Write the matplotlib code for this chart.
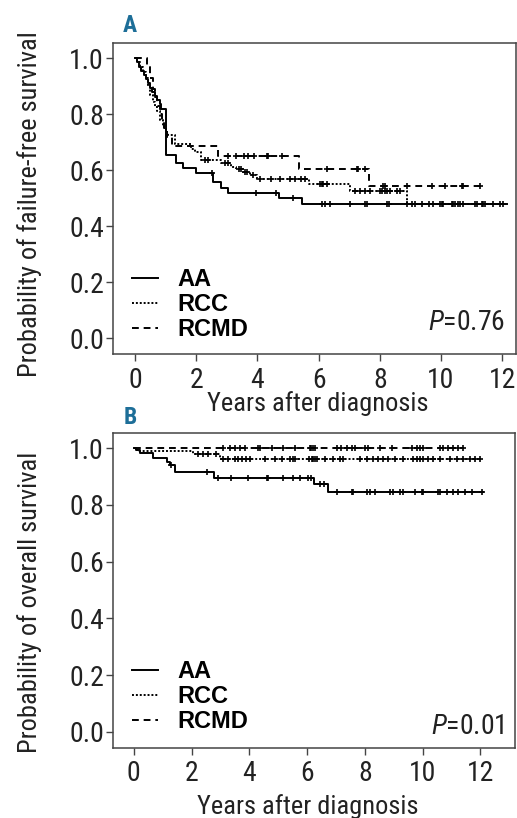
import numpy as np
import matplotlib
matplotlib.use("Agg")
import matplotlib.pyplot as plt
from matplotlib import font_manager

# pick a narrow grotesque if there is one, the figure uses a condensed face
available = {f.name for f in font_manager.fontManager.ttflist}
cond_font = next((f for f in ['Roboto Condensed', 'Archivo Narrow', 'Asap Condensed']
                  if f in available), 'DejaVu Sans')
plt.rcParams['font.family'] = [cond_font, 'DejaVu Sans']
plt.rcParams['mathtext.fontset'] = 'custom'
plt.rcParams['mathtext.rm'] = cond_font
plt.rcParams['mathtext.it'] = cond_font + ':italic'

groups = ["AA", "RCC", "RCMD"]

# panel A - failure-free survival (event times, survival after each step)
ffs_aa_t = [0.05, 0.12, 0.2, 0.28, 0.35, 0.42, 0.5, 0.57, 0.65, 0.72, 0.8, 0.86,
            1.0, 1.35, 1.57, 2.0, 2.55, 2.82, 3.04, 4.69, 5.44]
ffs_aa_s = [0.985, 0.97, 0.955, 0.94, 0.925, 0.91, 0.895, 0.88, 0.865, 0.85, 0.835, 0.82,
            0.655, 0.624, 0.606, 0.59, 0.558, 0.535, 0.519, 0.499, 0.478]
ffs_aa_end = 12.15
ffs_aa_cens = [2.5, 3.94, 4.62, 5.16, 6.1, 6.21, 6.37, 7.03, 7.52, 7.57, 8.25, 8.3, 8.88,
               9.15, 9.59, 9.97, 10.08, 10.35, 10.46, 10.57, 10.73, 11.17, 11.33, 11.44,
               12.04]

ffs_rcc_t = [0.05, 0.15, 0.25, 0.35, 0.42, 0.5, 0.58, 0.65, 0.72, 0.8, 0.9, 1.0, 1.08,
             1.3, 1.84, 1.95, 2.17, 2.82, 3.15, 3.31, 3.53, 3.75, 3.97, 5.7, 7.03, 8.88]
ffs_rcc_s = [0.985, 0.97, 0.95, 0.93, 0.9, 0.87, 0.845, 0.825, 0.81, 0.78, 0.755, 0.735,
             0.725, 0.695, 0.677, 0.665, 0.636, 0.627, 0.612, 0.604, 0.594, 0.582, 0.57,
             0.549, 0.527, 0.48]
ffs_rcc_end = 12.0
ffs_rcc_cens = [2.3, 2.4, 2.95, 3.05, 3.4, 3.45, 3.6, 3.65, 3.85, 4.07, 4.45, 4.73, 5.05,
                5.22, 5.43, 5.55, 6.05, 6.1, 6.15, 6.26, 7.19, 7.35, 7.52, 7.68, 8.0, 8.06,
                8.17, 8.25, 8.33, 8.55, 8.66, 9.04, 9.37, 9.75, 10.02, 10.4, 10.62, 11.11,
                11.38, 11.71, 11.93]

ffs_rcmd_t = [0.4, 0.5, 0.58, 0.65, 0.72, 0.8, 0.88, 0.95, 1.05, 1.2, 2.72, 5.36, 7.63]
ffs_rcmd_s = [0.97, 0.93, 0.89, 0.86, 0.83, 0.8, 0.77, 0.75, 0.72, 0.685, 0.649, 0.604, 0.544]
ffs_rcmd_end = 11.27
ffs_rcmd_cens = [3.05, 3.3, 3.55, 3.7, 3.9, 4.3, 4.36, 4.8, 6.26, 7.24, 7.3, 7.52, 8.11,
                 8.17, 8.88, 9.7, 10.13, 10.68, 10.73, 11.27]

# panel B - overall survival
os_aa_t = [0.08, 0.2, 0.66, 1.15, 1.25, 1.41, 2.78, 6.25, 6.73]
os_aa_s = [0.993, 0.985, 0.965, 0.952, 0.94, 0.916, 0.896, 0.874, 0.847]
os_aa_end = 12.1
os_aa_cens = [1.3, 2.54, 2.91, 3.38, 3.96, 4.6, 4.66, 5.17, 5.52, 5.75, 6.04, 6.15, 6.45,
              6.6, 7.02, 7.54, 7.6, 8.06, 8.18, 8.35, 8.87, 8.98, 9.21, 9.33, 9.73, 9.97,
              10.02, 10.54, 10.6, 10.83, 11.06, 11.24, 11.47, 11.7, 12.04]

os_rcc_t = [0.1, 2.05, 2.97]
os_rcc_s = [0.99, 0.979, 0.963]
os_rcc_end = 12.0
os_rcc_cens = [2.22, 2.39, 2.57, 2.85, 3.09, 3.27, 3.5, 3.62, 3.73, 3.9, 4.02, 4.54, 4.88,
               5.12, 5.4, 5.52, 5.58, 6.05, 6.16, 6.22, 6.28, 6.33, 6.62, 6.91, 7.14, 7.26,
               7.83, 8.06, 8.29, 8.46, 8.64, 8.81, 9.04, 9.33, 9.68, 9.79, 9.91, 10.02,
               10.2, 10.37, 10.6, 10.95, 11.18, 11.41, 11.64, 11.81, 11.99]

os_rcmd_t = []
os_rcmd_s = []
os_rcmd_end = 11.45
os_rcmd_cens = [3.09, 3.33, 3.5, 3.67, 3.85, 4.3, 4.36, 4.77, 5.17, 5.58, 6.1, 6.15, 6.2,
                6.27, 7.02, 7.19, 7.37, 7.54, 7.66, 8.0, 8.12, 8.52, 8.93, 9.62, 9.79, 9.91,
                10.02, 10.6, 10.72, 10.89, 11.06, 11.24, 11.41]

line_styles = ['-', (0, (1, 1)), (0, (3.5, 2.5))]
label_color = '#1d6e98'


def km_curve(ax, t, s, end, cens, ls, label):
    x = np.r_[0.0, t, end]
    y = np.r_[1.0, s, s[-1] if len(s) else 1.0]
    ax.step(x, y, where='post', color='black', lw=1.4, ls=ls, label=label)
    idx = np.searchsorted(x, cens, side='right') - 1
    ax.plot(cens, y[idx], ls='none', marker='+', ms=5, mew=1.2, color='black')


def style_axes(ax, xmax):
    ax.set_xlim(-0.72, xmax)
    ax.set_ylim(-0.057, 1.054)
    ax.set_xticks(range(0, 13, 2))
    ax.set_yticks([0.0, 0.2, 0.4, 0.6, 0.8, 1.0])
    ax.set_yticklabels(['0.0', '0.2', '0.4', '0.6', '0.8', '1.0'])
    ax.tick_params(labelsize=20, length=5, width=1, color='#444444', labelcolor='#222222')
    ax.tick_params(axis='y', pad=1.5)
    ax.tick_params(axis='x', pad=4)
    for sp in ax.spines.values():
        sp.set_color('#444444')
        sp.set_linewidth(1.1)


fig = plt.figure(figsize=(5.17, 8.18), dpi=100)
axA = fig.add_axes([0.2186, 0.5672, 0.7795, 0.3802])
axB = fig.add_axes([0.2186, 0.0856, 0.7776, 0.3851])

ffs = [(ffs_aa_t, ffs_aa_s, ffs_aa_end, ffs_aa_cens),
       (ffs_rcc_t, ffs_rcc_s, ffs_rcc_end, ffs_rcc_cens),
       (ffs_rcmd_t, ffs_rcmd_s, ffs_rcmd_end, ffs_rcmd_cens)]
osv = [(os_aa_t, os_aa_s, os_aa_end, os_aa_cens),
       (os_rcc_t, os_rcc_s, os_rcc_end, os_rcc_cens),
       (os_rcmd_t, os_rcmd_s, os_rcmd_end, os_rcmd_cens)]

for ax, data in [(axA, ffs), (axB, osv)]:
    for (t, s, end, cens), ls, g in zip(data, line_styles, groups):
        km_curve(ax, t, s, end, cens, ls, g)

style_axes(axA, 12.45)
style_axes(axB, 13.2)

axA.set_ylabel('Probability of failure-free survival', fontsize=19, color='#222222')
axA.yaxis.set_label_coords(-0.176, 0.482)
axA.set_xlabel('Years after diagnosis', fontsize=19, color='#222222')
axA.xaxis.set_label_coords(0.509, -0.12)
axB.set_ylabel('Probability of overall survival', fontsize=19, color='#222222')
axB.yaxis.set_label_coords(-0.177, 0.463)
axB.set_xlabel('Years after diagnosis', fontsize=19, color='#222222')
axB.xaxis.set_label_coords(0.485, -0.145)

for ax, ptxt, py, ly in [(axA, r'$P$=0.76', 0.077, -0.012), (axB, r'$P$=0.01', 0.044, -0.005)]:
    ax.text(0.973, py, ptxt, transform=ax.transAxes, ha='right', va='baseline',
            fontsize=20, color='#222222')
    ax.legend(loc='lower left', bbox_to_anchor=(0.005, ly), frameon=False,
              prop={'family': 'Liberation Sans', 'weight': 'bold', 'size': 17},
              handlelength=1.1, handletextpad=0.85, labelspacing=0.09,
              borderaxespad=0.3)

fig.text(130 / 517, 1 - 26 / 818, 'A', color=label_color, fontsize=17,
         fontweight='bold', ha='center', va='center')
fig.text(130 / 517, 1 - 418 / 818, 'B', color=label_color, fontsize=17,
         fontweight='bold', ha='center', va='center')

fig.savefig('out.png', dpi=100)
